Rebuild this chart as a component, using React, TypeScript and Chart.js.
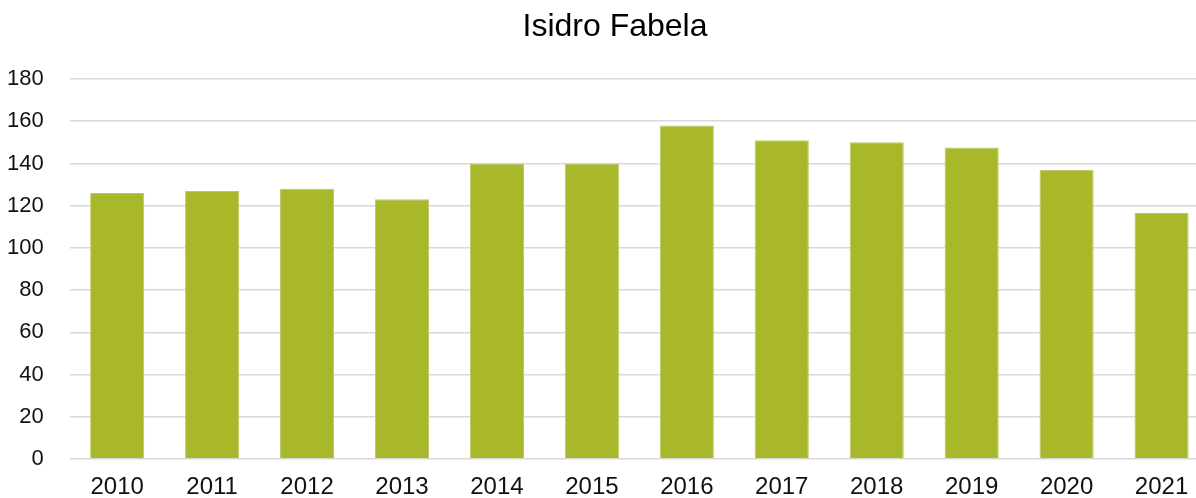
import React, { useEffect, useRef } from "react";
import { Chart, registerables } from "chart.js";

Chart.register(...registerables);

const titleText = "Isidro Fabela";
const years = ["2010", "2011", "2012", "2013", "2014", "2015", "2016", "2017", "2018", "2019", "2020", "2021"];
const values = [126, 127, 128, 123, 140, 140, 158, 151, 150, 147.5, 137, 116.5];
const yMin = 0;
const yMax = 180;
const yStep = 20;

const FONT = "'Liberation Sans', Arial, sans-serif";

const titlePlugin = {
  id: "centeredTitle",
  afterDraw(chart: any) {
    const c = chart.ctx;
    c.save();
    c.font = `32px ${FONT}`;
    c.fillStyle = "#000";
    c.textAlign = "center";
    c.textBaseline = "middle";
    c.fillText(titleText, chart.width / 2, 27);
    c.restore();
  },
};

export default function App() {
  const ref = useRef<HTMLCanvasElement>(null);
  useEffect(() => {
    document.body.style.margin = "0";
    document.documentElement.style.overflow = "hidden";
    const ctx = ref.current!;
    const chart = new Chart(ctx, {
      type: "bar",
      data: {
        labels: years,
        datasets: [
          {
            data: values,
            backgroundColor: "#a8b82a",
            borderColor: "#bcc862",
            borderWidth: 1,
            categoryPercentage: 1,
            barPercentage: 0.57,
          },
        ],
      },
      plugins: [titlePlugin],
      options: {
        responsive: false,
        animation: false,
        layout: { padding: { left: -19, right: 21, top: 79, bottom: 2 } },
        plugins: {
          legend: { display: false },
          tooltip: { enabled: false },
          title: { display: false },
        },
        scales: {
          x: {
            grid: { display: false, drawTicks: false },
            border: { display: false },
            ticks: {
              color: "#111",
              font: { family: FONT, size: 24, lineHeight: 1 },
              padding: 16,
              maxRotation: 0,
            },
          },
          y: {
            min: yMin,
            max: yMax,
            grid: { color: "#d9d9d9", lineWidth: 1.5, drawTicks: false },
            border: { display: false },
            ticks: { stepSize: yStep, color: "#111", font: { family: FONT, size: 22 }, padding: 26 },
          },
        },
      },
    });
    return () => chart.destroy();
  }, []);
  return (
    <div style={{ width: 1196, height: 498, overflow: "hidden", background: "#fff" }}>
      <canvas ref={ref} width={1230} height={517} style={{ width: 1230, height: 517, display: "block" }} />
    </div>
  );
}
